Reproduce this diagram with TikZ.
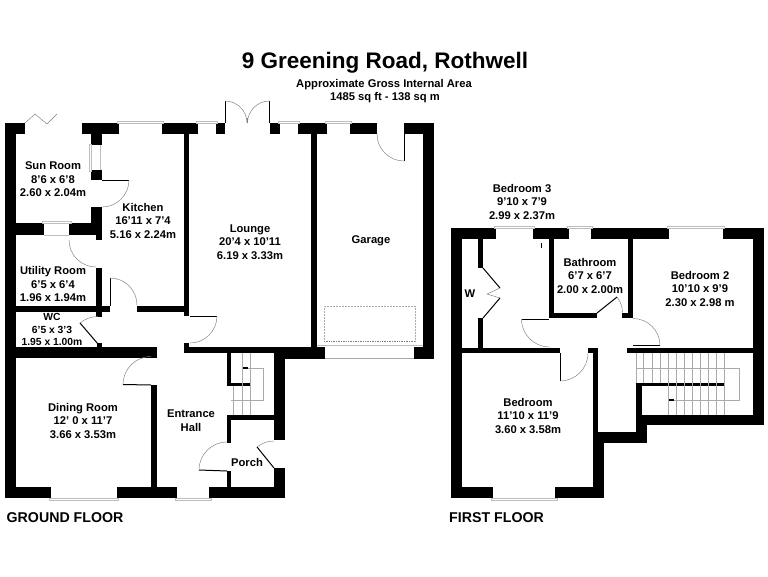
\documentclass[tikz,border=0pt]{standalone}
\usepackage{fontspec}
\usepackage{xcolor}
\setmainfont{Liberation Sans}
\definecolor{mauer}{RGB}{0,0,0}
\definecolor{simsgrau}{RGB}{190,190,190}
\definecolor{treppengrau}{RGB}{170,170,170}
\definecolor{schwenkgrau}{RGB}{125,125,125}
\tikzset{
    wall/.style={fill=mauer},
    sill/.style={draw=simsgrau, fill=white, line width=0.6pt},
    pane/.style={draw=simsgrau, line width=0.5pt},
    swing/.style={draw=schwenkgrau, line width=0.45pt},
    leaf/.style={draw=black, line width=1pt},
    stairline/.style={draw=treppengrau, line width=0.4pt},
    roomlabel/.style={font=\bfseries\fontsize{11.2}{13.5}\selectfont, align=center, inner sep=0pt},
    floorlabel/.style={font=\bfseries\fontsize{14.2}{15}\selectfont, anchor=west, inner sep=0pt}
}

\begin{document}
\begin{tikzpicture}[x=1pt, y=-1pt]
    \useasboundingbox (0,0) rectangle (768,576);
    \fill[white] (0,0) rectangle (768,576);

    % Ueberschrift
    \node[font=\bfseries\fontsize{22.5}{24}\selectfont, inner sep=0pt] (title) at (385,63) {9 Greening Road, Rothwell};
    \node[font=\bfseries\fontsize{11.2}{13}\selectfont, inner sep=0pt] (areaname) at (384,84.5) {Approximate Gross Internal Area};
    \node[font=\bfseries\fontsize{11.2}{13}\selectfont, inner sep=0pt] (areavalue) at (385,97.5) {1485 sq ft - 138 sq m};

    % Erdgeschoss: Aussenwaende
    \fill[wall] (5,123) rectangle (16,498);  % links
    \fill[wall] (5,123) rectangle (25,134);
    \fill[wall] (82,123) rectangle (119,134);
    \fill[wall] (162,123) rectangle (198,134);
    \fill[wall] (216,123) rectangle (225,134);
    \fill[wall] (270,123) rectangle (280,134);
    \fill[wall] (298,123) rectangle (327,134);
    \fill[wall] (350,123) rectangle (377,134);
    \fill[wall] (404,123) rectangle (434,134);
    \fill[wall] (423,123) rectangle (434,359);  % Garage rechts
    \fill[wall] (414,347) rectangle (434,359);
    \fill[wall] (285,347) rectangle (325,359);
    \fill[wall] (274,347) rectangle (285,440);
    \fill[wall] (274,468) rectangle (285,498);
    \fill[wall] (5,487) rectangle (51,498);  % unten
    \fill[wall] (117,487) rectangle (177,498);
    \fill[wall] (209,487) rectangle (285,498);

    % Erdgeschoss: Innenwaende
    \fill[wall] (91,123) rectangle (102,145);
    \fill[wall] (91,170) rectangle (102,180);
    \fill[wall] (91,207) rectangle (102,235);
    \fill[wall] (96,235) rectangle (102,240);
    \fill[wall] (96,268) rectangle (102,317);
    \fill[wall] (97,343) rectangle (102,347);
    \fill[wall] (16,223) rectangle (44,235);
    \fill[wall] (69,223) rectangle (102,235);
    \fill[wall] (16,306) rectangle (110,312);
    \fill[wall] (137,306) rectangle (189,312);
    \fill[wall] (184,123) rectangle (189,316);
    \fill[wall] (184,343) rectangle (189,353);
    \fill[wall] (311,123) rectangle (317,347);
    \fill[wall] (16,347) rectangle (157,358);
    \fill[wall] (184,347) rectangle (311,353);
    \fill[wall] (151,385) rectangle (157,487);
    \fill[wall] (227,353) rectangle (231,385);
    \fill[wall] (227,382.5) rectangle (250,385.5);
    \fill[wall] (227,415) rectangle (274,420);
    \fill[wall] (227,415) rectangle (231,443);
    \fill[wall] (227,471) rectangle (231,487);

    % Erdgeschoss: Fenster
    \draw[sill] (117.5,121.5) rectangle (163,123);
    \draw[sill] (196.5,121.5) rectangle (217.5,123);
    \draw[sill] (278.5,121.5) rectangle (299.5,123);
    \draw[sill] (325.5,121.5) rectangle (351.5,123);
    \draw[sill] (42.5,221.5) rectangle (71,223);
    \draw[sill] (89.5,144) rectangle (91,171);
    \draw[sill] (49,498) rectangle (118.5,500);
    \draw[sill] (175,498) rectangle (211,500);
    \draw[pane] (44,235) -- (69,235);
    \draw[pane] (100.5,145) -- (100.5,170);

    % Erdgeschoss: Garagentor
    \draw[simsgrau, line width=1.2pt] (317,345.5) -- (423,345.5);
    \draw[treppengrau, line width=0.8pt] (325,358.5) -- (414,358.5);
    \draw[treppengrau, line width=0.5pt, densely dotted] (324,341) -- (324,306) -- (415,306) -- (415,341);
    \draw[schwenkgrau, line width=0.7pt, densely dotted] (324,341) -- (415,341);

    % Erdgeschoss: Tueren
    \draw[swing] (25,123) -- (35,114) -- (47,124) -- (57,114);
    \draw[leaf] (102,180) -- (129,180);
    \draw[swing] (129,180) arc[start angle=0, end angle=90, radius=27];
    \draw[swing] (69,240) arc[start angle=180, end angle=90, radius=27];
    \draw[leaf] (110,278) -- (110,306);
    \draw[swing] (110,278) arc[start angle=-90, end angle=0, radius=27];
    \draw[leaf] (98,344) -- (80,323);
    \draw[swing] (80,323) arc[start angle=-130, end angle=-90, radius=27.7];
    \draw[leaf] (123,384.5) -- (151,385);
    \draw[swing] (123,384.5) arc[start angle=180, end angle=270, radius=28];
    \draw[leaf] (190,316) -- (217,316);
    \draw[swing] (217,316) arc[start angle=0, end angle=90, radius=27];
    \draw[leaf] (199,470) -- (227,471);
    \draw[swing] (199,470) arc[start angle=180, end angle=270, radius=28];
    \draw[leaf] (274,468) -- (257,447);
    \draw[swing] (257,447) arc[start angle=231, end angle=270, radius=27];
    \draw[leaf, line width=0.6pt] (225,101) -- (225,123);
    \draw[swing] (225,101) arc[start angle=-90, end angle=0, radius=22];
    \draw[leaf, line width=0.6pt] (269.5,101) -- (269.5,123);
    \draw[swing] (269.5,101) arc[start angle=-90, end angle=-180, radius=22];
    \draw[swing] (247.5,118) -- (247.5,123);
    \draw[leaf, line width=0.7pt] (404,134) -- (404,161);
    \draw[swing] (404,161) arc[start angle=90, end angle=180, radius=27];

    % Erdgeschoss: Treppe
    \draw[stairline] (233.5,386) -- (233.5,415) (242,353) -- (242,415) (250,353) -- (250,415);
    \draw[stairline] (231,400) -- (263,400) -- (263,368) -- (246,368);
    \fill[black] (242.5,367) rectangle (248,369);

    % Erdgeschoss: Beschriftungen
    \node[roomlabel] (sunroom) at (53,179.5) {Sun Room\\8'6 x 6'8\\2.60 x 2.04m};
    \node[roomlabel] (kitchen) at (143,220.5) {Kitchen\\16'11 x 7'4\\5.16 x 2.24m};
    \node[roomlabel] (utility) at (53,284) {Utility Room\\6'5 x 6'4\\1.96 x 1.94m};
    \node[roomlabel, font=\bfseries\fontsize{10.3}{12.5}\selectfont] (wc) at (52,329.5) {WC\\6'5 x 3'3\\1.95 x 1.00m};
    \node[roomlabel] (lounge) at (250,242) {Lounge\\20'4 x 10'11\\6.19 x 3.33m};
    \node[roomlabel] (garage) at (371,241) {Garage};
    \node[roomlabel] (dining) at (83,420.5) {Dining Room\\12' 0 x 11'7\\3.66 x 3.53m};
    \node[roomlabel] (hall) at (191,420.5) {Entrance\\Hall};
    \node[roomlabel] (porch) at (247,462) {Porch};
    \node[floorlabel] (groundfloor) at (6.5,517.5) {GROUND FLOOR};

    % Obergeschoss: Aussenwaende
    \fill[wall] (451,228) rectangle (462,498);
    \fill[wall] (451,228) rectangle (496,239);
    \fill[wall] (533,228) rectangle (569,239);
    \fill[wall] (591,228) rectangle (669,239);
    \fill[wall] (723,228) rectangle (764,239);
    \fill[wall] (753,228) rectangle (764,425);
    \fill[wall] (636,415) rectangle (764,425);
    \fill[wall] (636,415) rectangle (647,443);
    \fill[wall] (593,432) rectangle (647,443);
    \fill[wall] (593,432) rectangle (604,498);
    \fill[wall] (451,487) rectangle (493,498);
    \fill[wall] (555,487) rectangle (604,498);

    % Obergeschoss: Innenwaende
    \fill[wall] (478,239) rectangle (483,268);
    \fill[wall] (478,318) rectangle (483,348);
    \fill[wall] (462,348) rectangle (560,353);
    \fill[wall] (588,348) rectangle (598,353);
    \fill[wall] (593,348) rectangle (598,432);
    \fill[wall] (549,239) rectangle (554,317);
    \fill[wall] (549,313) rectangle (597,317.5);
    \fill[wall] (622,313) rectangle (633,318);
    \fill[wall] (627.5,239) rectangle (633,318);
    \fill[wall] (627,347.5) rectangle (764,353);
    \fill[wall] (636,383) rectangle (724,385.5);
    \fill[wall] (636,383) rectangle (642,425);
    \fill[black] (540.5,243) rectangle (541.5,248);

    % Obergeschoss: Fenster
    \draw[sill] (494.5,226.5) rectangle (534.5,228);
    \draw[sill] (567.5,226.5) rectangle (592.5,228);
    \draw[sill] (667.5,226.5) rectangle (724.5,228);
    \draw[sill] (491.5,498) rectangle (557,500);

    % Obergeschoss: Tueren
    \draw[leaf] (483,268) -- (500,288);
    \draw[swing] (500,288) -- (487,294) -- (500,298);
    \draw[leaf] (500,298) -- (483,318);
    \draw[leaf, line width=0.7pt] (521.5,319) -- (549,319);
    \draw[swing] (521.5,319) arc[start angle=180, end angle=90, radius=28];
    \draw[leaf, line width=0.8pt] (560,353) -- (560,381);
    \draw[swing] (560,381) arc[start angle=90, end angle=0, radius=28];
    \draw[leaf] (597,313) -- (617,297);
    \draw[swing] (617,297) arc[start angle=-38.7, end angle=0, radius=25];
    \draw[leaf] (633,345.5) -- (660,345.5);
    \draw[swing] (660,345.5) arc[start angle=0, end angle=-90, radius=27];

    % Obergeschoss: Treppe
    \draw[stairline] (636,353) -- (636,383) (643.5,353) -- (643.5,383) (652,353) -- (652,383) (660,353) -- (660,383);
    \draw[stairline] (668,353) -- (668,415) (676,353) -- (676,415) (684,353) -- (684,415) (692,353) -- (692,415);
    \draw[stairline] (700.5,353) -- (700.5,415) (708.5,353) -- (708.5,415) (716.5,353) -- (716.5,415) (724,353) -- (724,415);
    \draw[stairline] (636,368) -- (739,368) -- (739,400) -- (669,400);
    \fill[black] (668.5,399) rectangle (674,401);

    % Obergeschoss: Beschriftungen
    \node[roomlabel] (bedroomthree) at (522,201.5) {Bedroom 3\\9'10 x 7'9\\2.99 x 2.37m};
    \node[roomlabel] (bathroom) at (590,275.5) {Bathroom\\6'7 x 6'7\\2.00 x 2.00m};
    \node[roomlabel] (wardrobe) at (470,294) {W};
    \node[roomlabel] (bedroomtwo) at (700,288.5) {Bedroom 2\\10'10 x 9'9\\2.30 x 2.98 m};
    \node[roomlabel] (bedroomone) at (528,415.5) {Bedroom\\11'10 x 11'9\\ 3.60 x 3.58m};
    \node[floorlabel] (firstfloor) at (449,517.5) {FIRST FLOOR};
\end{tikzpicture}
\end{document}
